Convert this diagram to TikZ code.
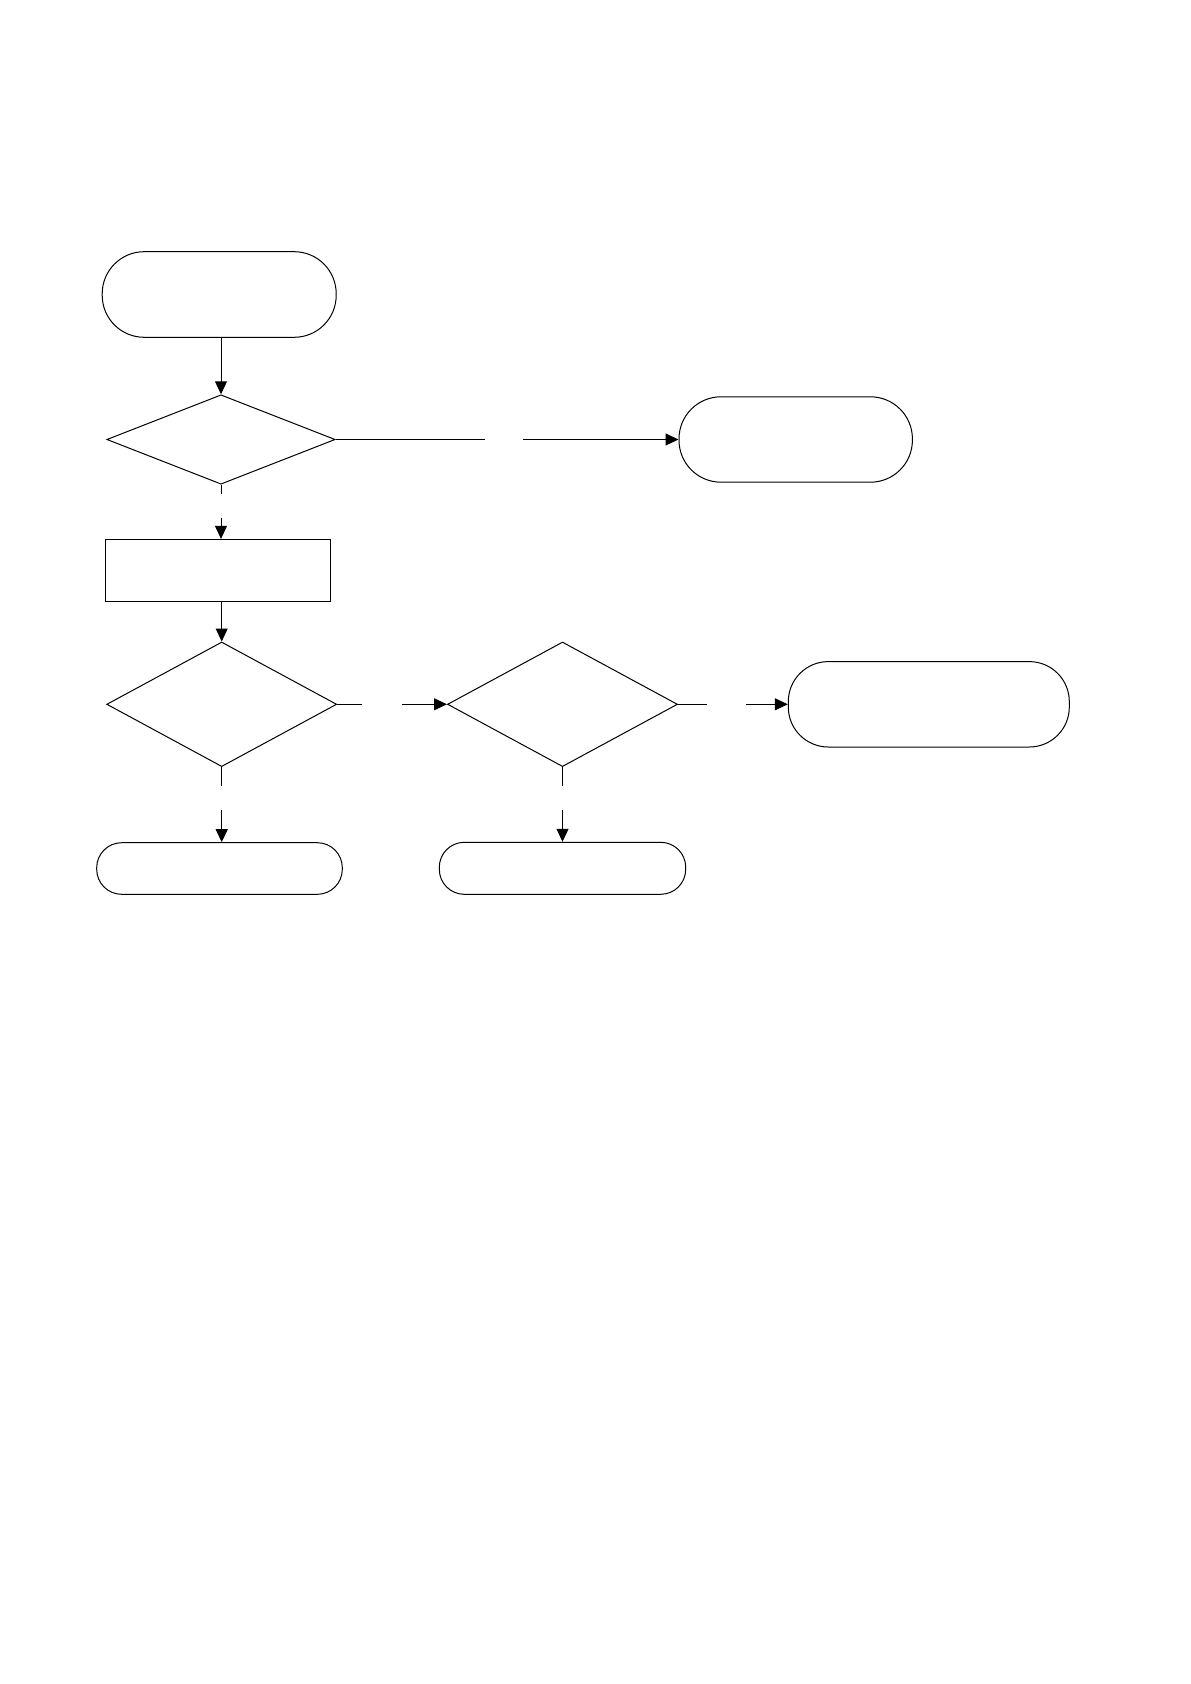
\documentclass[tikz,border=0pt]{standalone}
\usepackage{tikz}
\usetikzlibrary{shapes.geometric,arrows.meta}

\tikzset{
    terminal/.style={draw, rectangle, inner sep=0pt},
    decision/.style={draw, diamond, inner sep=0pt},
    process/.style={draw, rectangle, inner sep=0pt},
    flowarrow/.style={-{Triangle[length=6.5pt,width=6pt]}}
}

\begin{document}
\begin{tikzpicture}[x=0.5pt, y=-0.5pt, line width=0.5pt]
    \useasboundingbox (0,0) rectangle (1190,1684);

    % first column
    \node[terminal, rounded corners=21pt, minimum width=117pt, minimum height=42.8pt] (start) at (219.2,294.5) {};
    \node[decision, minimum width=114.2pt, minimum height=44.7pt] (dec1) at (221,439.5) {};
    \node[process, minimum width=112.5pt, minimum height=30.8pt] (proc) at (218.2,570.2) {};
    \node[decision, minimum width=115pt, minimum height=62.3pt] (dec2) at (221.7,704.3) {};
    \node[terminal, rounded corners=12.5pt, minimum width=122.8pt, minimum height=25.8pt] (endC) at (219.5,868.5) {};

    % other columns
    \node[terminal, rounded corners=21pt, minimum width=116.7pt, minimum height=42.7pt] (endA) at (795.7,439.5) {};
    \node[decision, minimum width=115pt, minimum height=62.3pt] (dec3) at (562.5,704.3) {};
    \node[terminal, rounded corners=20pt, minimum width=140.5pt, minimum height=42.7pt] (endB) at (928.8,704.3) {};
    \node[terminal, rounded corners=12.5pt, minimum width=123.2pt, minimum height=26pt] (endD) at (562.5,868.3) {};

    % ends of the broken connectors
    \coordinate (g1a) at (485,439.5);
    \coordinate (g1b) at (523,439.5);
    \coordinate (g2a) at (221,494);
    \coordinate (g2b) at (221,517.7);
    \coordinate (g3a) at (361.7,704.3);
    \coordinate (g3b) at (401.7,704.3);
    \coordinate (g4a) at (706.5,704.3);
    \coordinate (g4b) at (746,704.3);
    \coordinate (g5a) at (221.7,785.5);
    \coordinate (g5b) at (221.7,810);
    \coordinate (g6a) at (562.5,785.5);
    \coordinate (g6b) at (562.5,810);

    \draw[flowarrow] (start.south -| dec1.north) -- (dec1.north);
    \draw (dec1.east) -- (g1a);
    \draw[flowarrow] (g1b) -- (endA.west);
    \draw (dec1.south) -- (g2a);
    \draw[flowarrow] (g2b) -- (proc.north -| g2b);
    \draw[flowarrow] (proc.south -| dec2.north) -- (dec2.north);
    \draw (dec2.east) -- (g3a);
    \draw[flowarrow] (g3b) -- (dec3.west);
    \draw (dec3.east) -- (g4a);
    \draw[flowarrow] (g4b) -- (endB.west);
    \draw (dec2.south) -- (g5a);
    \draw[flowarrow] (g5b) -- (endC.north -| g5b);
    \draw (dec3.south) -- (g6a);
    \draw[flowarrow] (g6b) -- (endD.north);
\end{tikzpicture}
\end{document}
